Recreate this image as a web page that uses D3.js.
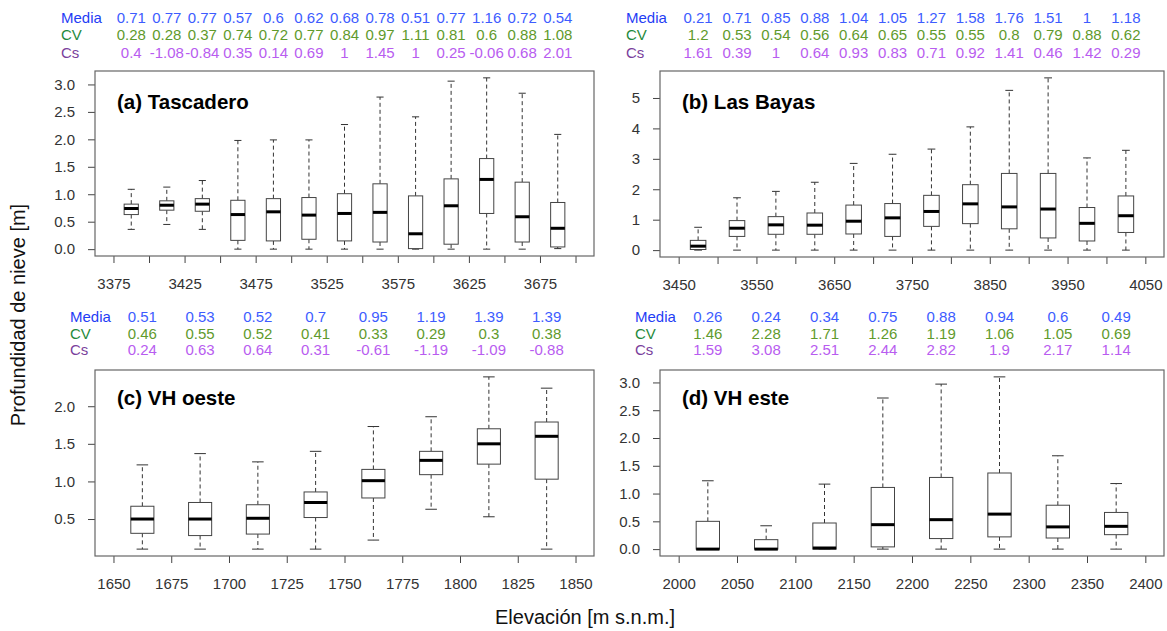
<!DOCTYPE html>
<html>
<head>
<meta charset="utf-8">
<title>Profundidad de nieve por elevación</title>
<script src="https://cdn.jsdelivr.net/npm/d3@7"></script>
<style>
  body { margin: 0; background: #fff; }
  text { font-family: "Liberation Sans", Arial, sans-serif; }
</style>
</head>
<body>
<div id="my_dataviz"></div>
<script>

// ---- data ----
var statNames = ["Media", "CV", "Cs"];

// (a) Tascadero
var elevA = [3387.5, 3412.5, 3437.5, 3462.5, 3487.5, 3512.5, 3537.5, 3562.5, 3587.5, 3612.5, 3637.5, 3662.5, 3687.5];
// [whisker low, q1, median, q3, whisker high]
var boxesA = [
  [0.36, 0.63, 0.74, 0.82, 1.09], [0.45, 0.71, 0.80, 0.88, 1.13], [0.36, 0.69, 0.82, 0.92, 1.25],
  [0, 0.16, 0.63, 0.89, 1.98], [0, 0.15, 0.68, 0.92, 1.99], [0, 0.18, 0.62, 0.94, 1.99],
  [0, 0.15, 0.65, 1.01, 2.27], [0, 0.13, 0.67, 1.19, 2.77], [0, 0.01, 0.28, 0.97, 2.41],
  [0, 0.09, 0.79, 1.28, 3.06], [0, 0.65, 1.27, 1.65, 3.12], [0, 0.13, 0.59, 1.22, 2.84],
  [0.01, 0.04, 0.38, 0.85, 2.09]
];
var mediaA = [0.71, 0.77, 0.77, 0.57, 0.6, 0.62, 0.68, 0.78, 0.51, 0.77, 1.16, 0.72, 0.54];
var cvA = [0.28, 0.28, 0.37, 0.74, 0.72, 0.77, 0.84, 0.97, 1.11, 0.81, 0.6, 0.88, 1.08];
var csA = [0.4, -1.08, -0.84, 0.35, 0.14, 0.69, 1, 1.45, 1, 0.25, -0.06, 0.68, 2.01];
var xTicksA = [3375, 3400, 3425, 3450, 3475, 3500, 3525, 3550, 3575, 3600, 3625, 3650, 3675, 3700];
var xLabelsA = [3375, 3425, 3475, 3525, 3575, 3625, 3675];
var yTicksA = [0, 0.5, 1, 1.5, 2, 2.5, 3];

// (b) Las Bayas
var elevB = [3475, 3525, 3575, 3625, 3675, 3725, 3775, 3825, 3875, 3925, 3975, 4025];
var boxesB = [
  [0, 0.02, 0.13, 0.32, 0.75], [0, 0.45, 0.72, 0.97, 1.72], [0, 0.52, 0.83, 1.10, 1.93],
  [0, 0.52, 0.82, 1.22, 2.23], [0, 0.53, 0.95, 1.48, 2.85], [0, 0.45, 1.06, 1.53, 3.15],
  [0, 0.78, 1.27, 1.80, 3.32], [0, 0.87, 1.52, 2.15, 4.05], [0, 0.70, 1.42, 2.52, 5.25],
  [0, 0.40, 1.35, 2.52, 5.66], [0, 0.30, 0.88, 1.40, 3.03], [0, 0.58, 1.13, 1.78, 3.28]
];
var mediaB = [0.21, 0.71, 0.85, 0.88, 1.04, 1.05, 1.27, 1.58, 1.76, 1.51, 1, 1.18];
var cvB = [1.2, 0.53, 0.54, 0.56, 0.64, 0.65, 0.55, 0.55, 0.8, 0.79, 0.88, 0.62];
var csB = [1.61, 0.39, 1, 0.64, 0.93, 0.83, 0.71, 0.92, 1.41, 0.46, 1.42, 0.29];
var xTicksB = [3450, 3500, 3550, 3600, 3650, 3700, 3750, 3800, 3850, 3900, 3950, 4000, 4050];
var xLabelsB = [3450, 3550, 3650, 3750, 3850, 3950, 4050];
var yTicksB = [0, 1, 2, 3, 4, 5];

// (c) VH oeste
var elevC = [1662.5, 1687.5, 1712.5, 1737.5, 1762.5, 1787.5, 1812.5, 1837.5];
var boxesC = [
  [0.10, 0.31, 0.50, 0.67, 1.22], [0.10, 0.28, 0.50, 0.72, 1.37], [0.10, 0.30, 0.51, 0.69, 1.26],
  [0.10, 0.52, 0.72, 0.86, 1.40], [0.22, 0.78, 1.01, 1.16, 1.73], [0.63, 1.09, 1.28, 1.40, 1.86],
  [0.53, 1.23, 1.50, 1.70, 2.39], [0.10, 1.03, 1.60, 1.79, 2.24]
];
var mediaC = [0.51, 0.53, 0.52, 0.7, 0.95, 1.19, 1.39, 1.39];
var cvC = [0.46, 0.55, 0.52, 0.41, 0.33, 0.29, 0.3, 0.38];
var csC = [0.24, 0.63, 0.64, 0.31, -0.61, -1.19, -1.09, -0.88];
var xTicksC = [1650, 1675, 1700, 1725, 1750, 1775, 1800, 1825, 1850];
var xLabelsC = [1650, 1675, 1700, 1725, 1750, 1775, 1800, 1825, 1850];
var yTicksC = [0.5, 1, 1.5, 2];

// (d) VH este
var elevD = [2025, 2075, 2125, 2175, 2225, 2275, 2325, 2375];
var boxesD = [
  [0, 0, 0, 0.50, 1.23], [0, 0, 0, 0.17, 0.42], [0, 0, 0.02, 0.47, 1.17],
  [0, 0.04, 0.44, 1.11, 2.72], [0, 0.19, 0.53, 1.29, 2.97], [0, 0.22, 0.63, 1.37, 3.10],
  [0, 0.20, 0.40, 0.79, 1.68], [0, 0.26, 0.41, 0.66, 1.18]
];
var mediaD = [0.26, 0.24, 0.34, 0.75, 0.88, 0.94, 0.6, 0.49];
var cvD = [1.46, 2.28, 1.71, 1.26, 1.19, 1.06, 1.05, 0.69];
var csD = [1.59, 3.08, 2.51, 2.44, 2.82, 1.9, 2.17, 1.14];
var xTicksD = [2000, 2050, 2100, 2150, 2200, 2250, 2300, 2350, 2400];
var xLabelsD = [2000, 2050, 2100, 2150, 2200, 2250, 2300, 2350, 2400];
var yTicksD = [0, 0.5, 1, 1.5, 2, 2.5, 3];

// ---- layout ----
var width = 1167, height = 631;

var panels = [
  {title: "(a) Tascadero", left: 95, right: 594, top: 71, bottom: 256, statX: 61, statY: [23, 40, 57.5],
   elev: elevA, boxes: boxesA, stats: [mediaA, cvA, csA], xTicks: xTicksA, xLabels: xLabelsA, yTicks: yTicksA, yFmt: ".1f"},
  {title: "(b) Las Bayas", left: 660, right: 1164, top: 71, bottom: 257, statX: 626, statY: [23, 40, 57.5],
   elev: elevB, boxes: boxesB, stats: [mediaB, cvB, csB], xTicks: xTicksB, xLabels: xLabelsB, yTicks: yTicksB, yFmt: "d"},
  {title: "(c) VH oeste", left: 95, right: 594, top: 370, bottom: 556, statX: 70, statY: [322, 338.5, 355],
   elev: elevC, boxes: boxesC, stats: [mediaC, cvC, csC], xTicks: xTicksC, xLabels: xLabelsC, yTicks: yTicksC, yFmt: ".1f"},
  {title: "(d) VH este", left: 660, right: 1164, top: 370, bottom: 556, statX: 635, statY: [322, 338.5, 355],
   elev: elevD, boxes: boxesD, stats: [mediaD, cvD, csD], xTicks: xTicksD, xLabels: xLabelsD, yTicks: yTicksD, yFmt: ".1f"}
];

var labelColors = ["#1f3df5", "#1f8a3c", "#7a3f9c"];
var valueColors = ["#3d5cff", "#5f9a2c", "#b85cf0"];

var svg = d3.select("#my_dataviz")
  .append("svg")
    .attr("width", width)
    .attr("height", height);

panels.forEach(function(p) {
  // R style axis limits: 4% padding on each side
  var x0 = p.xTicks[0], x1 = p.xTicks[p.xTicks.length - 1];
  var xe = (x1 - x0) * 0.04;
  var x = d3.scaleLinear().domain([x0 - xe, x1 + xe]).range([p.left, p.right]);

  var lo = d3.min(p.boxes, function(b) { return b[0]; });
  var hi = d3.max(p.boxes, function(b) { return b[4]; });
  var ye = (hi - lo) * 0.04;
  var y = d3.scaleLinear().domain([lo - ye, hi + ye]).range([p.bottom, p.top]);

  var g = svg.append("g");

  // stats table above the panel
  statNames.forEach(function(name, r) {
    g.append("text")
      .attr("x", p.statX)
      .attr("y", p.statY[r])
      .style("font-size", "15px")
      .style("fill", labelColors[r])
      .text(name);
    g.selectAll(null)
      .data(p.stats[r])
      .enter()
      .append("text")
        .attr("x", function(d, i) { return x(p.elev[i]); })
        .attr("y", p.statY[r])
        .attr("text-anchor", "middle")
        .style("font-size", "15px")
        .style("fill", valueColors[r])
        .text(function(d) { return String(d); });
  });

  // y axis
  var yAxis = g.append("g")
    .attr("transform", "translate(" + p.left + ",0)")
    .call(d3.axisLeft(y).tickValues(p.yTicks).tickSize(7).tickPadding(13).tickFormat(d3.format(p.yFmt)));
  yAxis.select(".domain").remove();

  // x axis
  var xAxis = g.append("g")
    .attr("transform", "translate(0," + p.bottom + ")")
    .call(d3.axisBottom(x).tickValues(p.xTicks).tickSize(7).tickPadding(15)
      .tickFormat(function(d) { return p.xLabels.indexOf(d) >= 0 ? d : ""; }));
  xAxis.select(".domain").remove();

  g.selectAll(".tick line").style("stroke", "#444");
  g.selectAll(".tick text").style("font-size", "15px").style("fill", "#333")
    .style("font-family", "'Liberation Sans', Arial, sans-serif");

  // boxes
  var step = x(p.elev[1]) - x(p.elev[0]);
  var bw = step * 0.4;
  var cap = bw * 0.5;

  var box = g.selectAll("g.box")
    .data(p.boxes)
    .enter()
    .append("g")
      .attr("class", "box");

  var cx = function(d, i) { return x(p.elev[i]); };

  // dashed whiskers
  box.append("line")
    .attr("x1", cx).attr("x2", cx)
    .attr("y1", function(d) { return y(d[3]); })
    .attr("y2", function(d) { return y(d[4]); })
    .style("stroke", "#333").style("stroke-dasharray", "4,3");
  box.append("line")
    .attr("x1", cx).attr("x2", cx)
    .attr("y1", function(d) { return y(d[1]); })
    .attr("y2", function(d) { return y(d[0]); })
    .style("stroke", "#333").style("stroke-dasharray", "4,3");

  // caps
  [0, 4].forEach(function(k) {
    box.append("line")
      .attr("x1", function(d, i) { return cx(d, i) - cap / 2; })
      .attr("x2", function(d, i) { return cx(d, i) + cap / 2; })
      .attr("y1", function(d) { return y(d[k]); })
      .attr("y2", function(d) { return y(d[k]); })
      .style("stroke", "#333");
  });

  box.append("rect")
    .attr("x", function(d, i) { return cx(d, i) - bw / 2; })
    .attr("width", bw)
    .attr("y", function(d) { return y(d[3]); })
    .attr("height", function(d) { return y(d[1]) - y(d[3]); })
    .style("fill", "white")
    .style("stroke", "#444");

  box.append("line")
    .attr("x1", function(d, i) { return cx(d, i) - bw / 2; })
    .attr("x2", function(d, i) { return cx(d, i) + bw / 2; })
    .attr("y1", function(d) { return y(d[2]); })
    .attr("y2", function(d) { return y(d[2]); })
    .style("stroke", "black")
    .style("stroke-width", 3);

  // plot frame
  g.append("rect")
    .attr("x", p.left).attr("y", p.top)
    .attr("width", p.right - p.left).attr("height", p.bottom - p.top)
    .style("fill", "none").style("stroke", "#666").style("stroke-width", 1.2);

  // panel title
  g.append("text")
    .attr("x", p.left + 22)
    .attr("y", p.top + (p.top < 200 ? 38 : 35))
    .style("font-size", "20.5px")
    .style("font-weight", "bold")
    .style("fill", "black")
    .text(p.title);
});

svg.append("text")
  .attr("transform", "translate(25,315) rotate(-90)")
  .attr("text-anchor", "middle")
  .style("font-size", "20px")
  .style("fill", "#111")
  .text("Profundidad de nieve [m]");

svg.append("text")
  .attr("x", 585)
  .attr("y", 624)
  .attr("text-anchor", "middle")
  .style("font-size", "20px")
  .style("fill", "#111")
  .text("Elevación [m s.n.m.]");

</script>
</body>
</html>
